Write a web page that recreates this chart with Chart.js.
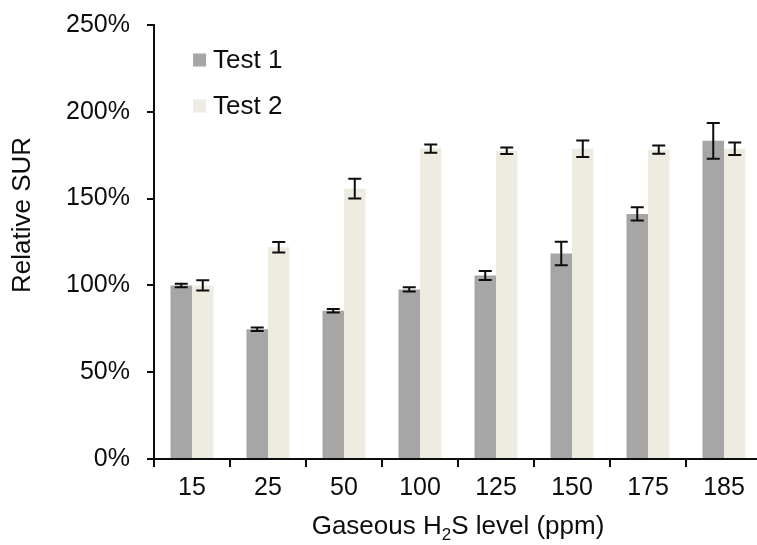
<!DOCTYPE html>
<html>
<head>
<meta charset="utf-8">
<script src="https://cdn.jsdelivr.net/npm/chart.js@4.4.1/dist/chart.umd.min.js"></script>
<style>
  html, body { margin: 0; padding: 0; background: #fff; overflow: hidden; }
  #wrap { width: 757px; height: 545px; overflow: hidden; }
</style>
</head>
<body>
<div id="wrap"><canvas id="sur" width="780" height="545"></canvas></div>
<script>
var levels = ['15', '25', '50', '100', '125', '150', '175', '185'];
var test1 = [100, 74.7, 85.4, 97.7, 105.7, 118.4, 141.2, 183.3];
var test1Err = [1, 1, 1, 1.2, 2.6, 6.8, 3.8, 10.3];
var test2 = [100, 122, 155.7, 178.8, 177.6, 178.7, 178.2, 178.7];
var test2Err = [2.9, 3, 5.7, 2.4, 1.9, 4.7, 2.4, 3.6];
var yTicks = [0, 50, 100, 150, 200, 250];

Chart.defaults.font.family = '"Liberation Sans", Arial, sans-serif';
Chart.defaults.color = '#0d0d0d';

// error bars drawn from the y scale
var errorBars = {
    id: 'errorBars',
    afterDatasetsDraw: function(chart) {
        var ctx = chart.ctx;
        var y = chart.scales.y;
        ctx.save();
        ctx.strokeStyle = '#0d0d0d';
        ctx.lineWidth = 2;
        chart.data.datasets.forEach(function(ds, i) {
            var meta = chart.getDatasetMeta(i);
            meta.data.forEach(function(bar, j) {
                var top = y.getPixelForValue(ds.data[j] + ds.errors[j]);
                var bot = y.getPixelForValue(ds.data[j] - ds.errors[j]);
                ctx.beginPath();
                ctx.moveTo(bar.x, top); ctx.lineTo(bar.x, bot);
                ctx.moveTo(bar.x - 6.5, top); ctx.lineTo(bar.x + 6.5, top);
                ctx.moveTo(bar.x - 6.5, bot); ctx.lineTo(bar.x + 6.5, bot);
                ctx.stroke();
            });
        });
        ctx.restore();
    }
};

// legend in the top left of the plot
var insideLegend = {
    id: 'insideLegend',
    afterDraw: function(chart) {
        var ctx = chart.ctx;
        var a = chart.chartArea;
        ctx.save();
        ctx.font = '26px "Liberation Sans", Arial, sans-serif';
        ctx.textBaseline = 'middle';
        chart.data.datasets.forEach(function(ds, i) {
            var cy = a.top + 35 + i * 46;
            ctx.fillStyle = ds.backgroundColor;
            ctx.fillRect(a.left + 39, cy - 6.5, 13, 13);
            ctx.fillStyle = '#0d0d0d';
            ctx.fillText(ds.label, a.left + 59, cy + 1);
        });
        ctx.restore();
    }
};

// axis titles: x one has the subscript 2, y one sits a bit above the middle
var axisTitles = {
    id: 'axisTitles',
    afterDraw: function(chart) {
        var ctx = chart.ctx;
        var a = chart.chartArea;
        var big = '26px "Liberation Sans", Arial, sans-serif';
        var small = '17px "Liberation Sans", Arial, sans-serif';
        var parts = [['Gaseous H', big, 0], ['2', small, 6], ['S level (ppm)', big, 0]];
        ctx.save();
        ctx.fillStyle = '#0d0d0d';
        ctx.textBaseline = 'alphabetic';
        var w = 0;
        parts.forEach(function(p) { ctx.font = p[1]; w += ctx.measureText(p[0]).width; });
        var x = (a.left + a.right) / 2 - w / 2;
        parts.forEach(function(p) {
            ctx.font = p[1];
            ctx.fillText(p[0], x, 534 + p[2]);
            x += ctx.measureText(p[0]).width;
        });

        ctx.font = big;
        ctx.textAlign = 'center';
        ctx.textBaseline = 'middle';
        ctx.translate(23, a.top + 190);
        ctx.rotate(-Math.PI / 2);
        ctx.fillText('Relative SUR', 0, 0);
        ctx.restore();
    }
};

new Chart(document.getElementById('sur').getContext('2d'), {
    type: 'bar',
    data: {
        labels: levels,
        datasets: [{
            label: 'Test 1',
            data: test1,
            errors: test1Err,
            backgroundColor: '#a6a6a6',
            categoryPercentage: 0.566,
            barPercentage: 1.0
        }, {
            label: 'Test 2',
            data: test2,
            errors: test2Err,
            backgroundColor: '#eeece1',
            categoryPercentage: 0.566,
            barPercentage: 1.0
        }]
    },
    options: {
        responsive: false,
        animation: false,
        devicePixelRatio: 1,
        layout: { padding: { left: 0, right: 18, top: 25, bottom: 0 } },
        plugins: {
            legend: { display: false },
            tooltip: { enabled: false }
        },
        scales: {
            x: {
                grid: { drawOnChartArea: false, drawTicks: true, tickLength: 8, color: '#0d0d0d', lineWidth: 2, offset: true },
                border: { display: true, color: '#0d0d0d', width: 2 },
                ticks: { font: { size: 25 }, padding: 6, maxRotation: 0, autoSkip: false },
                afterFit: function(s) { s.height = 86; s.paddingLeft = 0; s.paddingRight = 0 }
            },
            y: {
                min: 0,
                max: 250,
                afterBuildTicks: function(s) { s.ticks = yTicks.map(function(v) { return { value: v } }) },
                ticks: { font: { size: 25 }, padding: 17, callback: function(v) { return v + '%' } },
                grid: { drawOnChartArea: false, drawTicks: true, tickLength: 7, color: '#0d0d0d', lineWidth: 2 },
                border: { display: true, color: '#0d0d0d', width: 2 },
                afterFit: function(s) { s.width = 154; s.paddingTop = 0; s.paddingBottom = 0 }
            }
        }
    },
    plugins: [errorBars, insideLegend, axisTitles]
});
</script>
</body>
</html>
